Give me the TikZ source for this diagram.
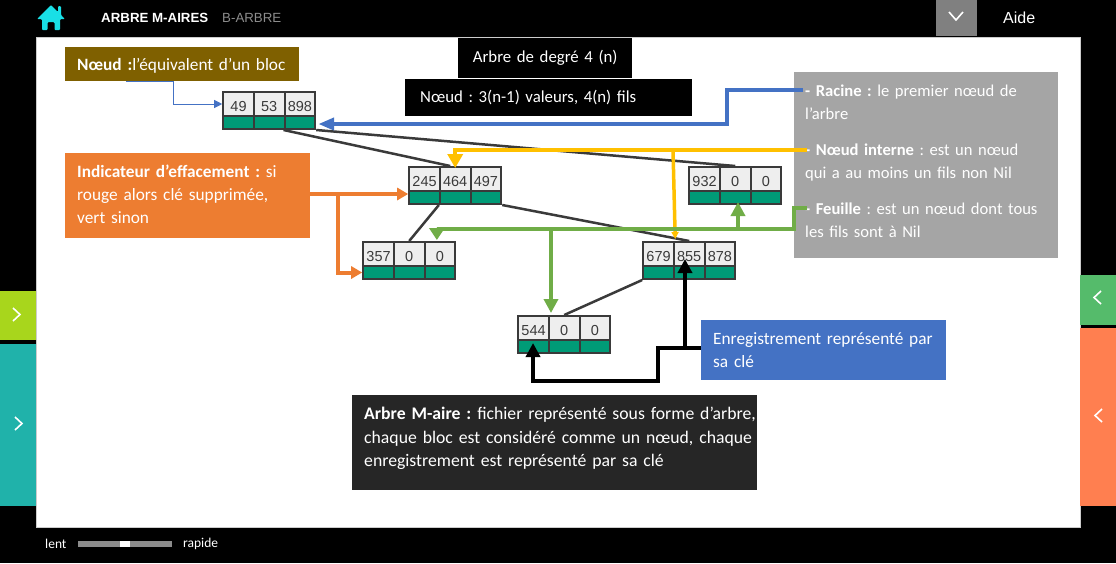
\documentclass[tikz,border=0pt]{standalone}
\usepackage{fontspec}
\usetikzlibrary{arrows.meta}
\newfontfamily\callfont[WordSpace=0.8]{Carlito}
\newfontfamily\keyfont{Liberation Sans}
\frenchspacing
\definecolor{brownbox}{HTML}{7F6000}
\definecolor{orangebox}{HTML}{ED7D31}
\definecolor{graybox}{HTML}{A5A5A5}
\definecolor{bluebox}{HTML}{4472C4}
\definecolor{darkbox}{HTML}{262626}
\definecolor{yellowline}{HTML}{FFC000}
\definecolor{greenline}{HTML}{70AD47}
\definecolor{cellline}{HTML}{3A3A3A}
\definecolor{cellkey}{HTML}{EEEEEE}
\definecolor{cellmark}{HTML}{009B77}
\definecolor{homecol}{HTML}{19DFE6}
\tikzset{
  callout/.style={anchor=north west, text=white, inner xsep=12pt, inner ysep=0pt, align=left,
    font=\callfont\fontsize{17.3}{23}\selectfont},
  blackbox/.style={callout, fill=black, align=center, inner xsep=0pt, font=\callfont\fontsize{16.8}{23}\selectfont},
  keycell/.style={draw=cellline, line width=2pt, fill=cellkey, inner sep=0pt, minimum width=30.67pt,
    minimum height=24pt, text=cellline, text height=15pt, text depth=0pt, font=\keyfont\fontsize{14.5}{14}\selectfont},
  markcell/.style={draw=cellline, line width=2pt, fill=cellmark, inner sep=0pt, minimum width=30.67pt,
    minimum height=13pt},
  treeedge/.style={draw=cellline, line width=2.5pt},
  callarrow/.style={line width=4pt, -{Triangle[width=14pt,length=14pt]}},
  chev/.style={draw=white, line width=1.6pt, line join=miter},
  sidetab/.style={anchor=north west, inner sep=0pt, minimum width=36pt},
  speed/.style={text=white, inner sep=0pt, font=\callfont\fontsize{13.5}{14}\selectfont},
}
\begin{document}
\begin{tikzpicture}[x=1pt, y=-1pt]
\useasboundingbox (0,0) rectangle (1116,563);
\fill [black] (0,0) rectangle (1116,563);
% page around the diagram
\node [draw=black!20, fill=white, line width=1pt, anchor=north west, inner sep=0pt,
  minimum width=1043.6pt, minimum height=490pt] (panel) at (36.2,36.5) {};
\fill [homecol, rounded corners=1pt] (51,5) -- (58,12) -- (58,6) -- (61,6) -- (61,15) -- (65,19) -- (60,19)
  -- (60,30) -- (54.5,30) -- (54.5,22) -- (47.5,22) -- (47.5,30) -- (42,30) -- (42,19) -- (37,19) -- cycle;
\node [anchor=west, inner sep=0pt, text=white, font=\keyfont\bfseries\fontsize{13.3}{14}\selectfont] (title) at (101,18) {ARBRE M-AIRES};
\node [anchor=west, inner sep=0pt, text=black!45, font=\keyfont\fontsize{13.3}{14}\selectfont] (subtitle) at (222,18) {B-ARBRE};
\fill [black!50] (936,0) rectangle (977,36);
\draw [chev] (949,12) -- (956,20) -- (963,12);
\node [anchor=west, inner sep=0pt, text=white, font=\keyfont\fontsize{16}{16}\selectfont] (aide) at (1003,18) {Aide};
% side tabs
\node [sidetab, fill={rgb,255:red,168;green,214;blue,28}, minimum height=49pt] (tab-a) at (0,291) {};
\node [sidetab, fill={rgb,255:red,32;green,178;blue,170}, minimum height=162pt] (tab-b) at (0,344) {};
\node [sidetab, fill={rgb,255:red,85;green,187;blue,107}, minimum height=50pt] (tab-c) at (1080,275) {};
\node [sidetab, fill={rgb,255:red,255;green,127;blue,80}, minimum height=178pt] (tab-d) at (1080,328) {};
\draw [chev] (13,308) -- (20,314.5) -- (13,321);
\draw [chev] (15,417) -- (22,423.5) -- (15,430);
\draw [chev] (1101,291) -- (1094,297.5) -- (1101,304);
\draw [chev] (1102,409) -- (1095,415.5) -- (1102,422);
% speed bar
\node [speed, anchor=west] (lent) at (45,544) {lent};
\fill [black!45] (78,541) rectangle (172,547);
\fill [white] (120,541) rectangle (130,547);
\node [speed, anchor=west] (rapide) at (183,544) {rapide};
% blocks of the tree
\foreach \b/\x/\y/\u/\v/\w in {root/222/91/49/53/898, n245/408/166/245/464/497, n932/688/166/932/0/0,
  n357/362/241/357/0/0, n679/642/241/679/855/878, n544/517/315/544/0/0} {
  \foreach \k [count=\i] in {\u,\v,\w} {
    \node [keycell] (\b-\i) at (\x+1.2+\i*30.67-15.33,\y+13) {\k};
    \node [markcell] (\b-b\i) at (\x+1.2+\i*30.67-15.33,\y+31.5) {};
  }
}
\draw [treeedge] (root-b3.south west) -- ([xshift=-5pt]n245-2.north);
\draw [treeedge] (root-b3.south east) -- (n932-2.north);
\draw [treeedge] (n245-b2.south west) -- (n357-2.north);
\draw [treeedge] (n245-b3.south east) -- (n679-2.north);
\draw [treeedge] (n679-b1.south west) -- (n544-2.north);
% text boxes
\node [callout, fill=brownbox, text width=210pt, minimum height=34pt, text height=16pt, text depth=3pt] (noeud) at (65,47)
  {\mbox{\textbf{Nœud :}l’équivalent d’un bloc}};
\node [callout, fill=orangebox, text width=221pt, minimum height=85pt] (indic) at (65,153)
  {\textbf{Indicateur d’effacement :} si\\rouge alors clé supprimée,\\vert sinon\\[-21pt]\mbox{}};
\node [blackbox, text width=174pt, minimum height=40pt] (degre) at (458,38) {Arbre de degré 4 (n)};
\node [blackbox, align=left, inner xsep=15pt, text width=257pt, minimum height=37pt] (valeurs) at (405,79) {Nœud : 3(n-1) valeurs, 4(n) fils};
\node [callout, fill=graybox, inner xsep=11pt, text width=242pt, minimum height=186pt,
  font=\callfont\fontsize{16.6}{23}\selectfont] (types) at (794,72)
  {\textbf{- Racine :} le premier nœud de\\l’arbre\\[13pt]
   \textbf{- Nœud interne} : est un nœud\\qui a au moins un fils non Nil\\[13pt]
   \mbox{\textbf{- Feuille} : est un nœud dont tous}\\les fils sont à Nil\\[-15pt]\mbox{}};
\node [callout, fill=bluebox, text width=221pt, minimum height=60pt] (cle) at (701,320)
  {\mbox{Enregistrement représenté par}\\sa clé};
\node [callout, fill=darkbox, text width=381pt, minimum height=95pt,
  font=\callfont\fontsize{17.7}{23.5}\selectfont] (marbre) at (352,395)
  {\mbox{\textbf{Arbre M-aire :} fichier représenté sous forme d’arbre,}\\\mbox{chaque bloc est considéré comme un nœud, chaque}\\enregistrement est représenté par sa clé\\[-12.5pt]\mbox{}};
% arrows
\draw [bluebox, line width=1pt, -{Triangle[width=8pt,length=8pt]}] ([xshift=61pt]noeud.south west) -- ++(47,0) |- (root-1.west);
\coordinate (racine-in) at (803,90);
\draw [callarrow, bluebox, -{Triangle[width=12pt,length=16pt]}] (racine-in) -- ++(-76,0) |- ([shift={(2pt,-1.5pt)}]root-b3.east);
\coordinate (interne-in) at (807,149.5);
\coordinate (interne-a) at (673,149.5);
\draw [callarrow, yellowline, -{Triangle[width=15pt,length=14pt]}] (interne-in) -| ([yshift=-2pt]n245-2.north);
\draw [yellowline, line width=3.5pt, -{Triangle[width=7pt,length=7pt]}] (interne-a) -- ([shift={(-14pt,2pt)}]n679-2.north);
\coordinate (feuille-in) at (807,208);
\coordinate (feuille-a) at (551,229);
\coordinate (feuille-b) at (738,229);
\draw [callarrow, greenline, -{Triangle[width=15pt,length=12pt]}] (feuille-in) -- ++(-13,0) |- (feuille-a) -| ([shift={(-3pt,1pt)}]n357-3.north);
\draw [callarrow, greenline] (feuille-a) -- ([yshift=2pt]feuille-a |- n544-2.north);
\draw [callarrow, greenline] (feuille-b) -- ([yshift=3pt]feuille-b |- n932-b2.south);
\coordinate (indic-a) at (338,194);
\draw [callarrow, orangebox, -{Triangle[width=12pt,length=11pt]}] (indic.east |- indic-a) -- (n245-b1.west |- indic-a);
\draw [callarrow, orangebox, -{Triangle[width=12pt,length=11pt]}] (indic-a) |- (n357-b1.west);
\coordinate (cle-a) at (685,348);
\draw [callarrow, black, line width=4.5pt] (cle.west |- cle-a) -- (cle-a) -- ([yshift=6pt]cle-a |- n679-b2.north);
\draw [callarrow, black, line width=4.5pt] (cle-a) -- ++(-27,0) -- ++(0,33) -| ([shift={(-0.5pt,-4pt)}]n544-b1.north);
\end{tikzpicture}
\end{document}
